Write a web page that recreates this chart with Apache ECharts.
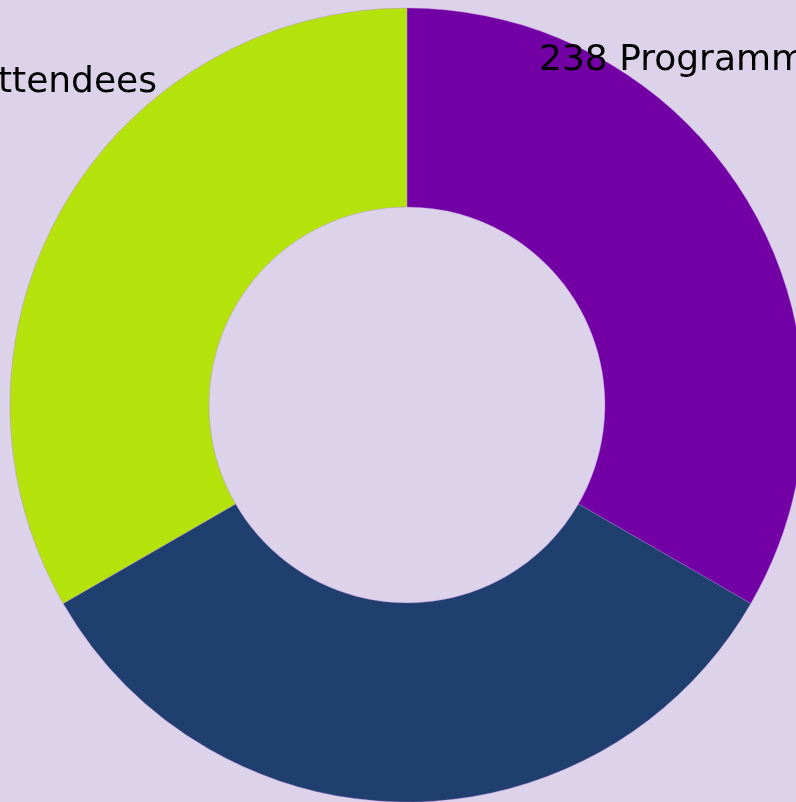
<!DOCTYPE html>
<html>
<head>
<meta charset="utf-8">
<script src="https://cdn.jsdelivr.net/npm/echarts@6/dist/echarts.min.js"></script>
<style>
html,body{margin:0;padding:0;background:#DCD3EB;}
#c{width:796px;height:802px;}
</style>
</head>
<body>
<div id="c"></div>
<script>
var categories = ['Programme Attendees', 'Other', 'Attendees'];
var values = [238, 238, 238];
var labelTexts = ['238 Programme Attendees', '', 'Attendees'];
var colors = ['#7300A4', '#1F3F6F', '#B3E30B'];

var chart = echarts.init(document.getElementById('c'), null, {renderer: 'canvas'});
var labelPos = [
  {x: 539, y: 61, align: 'left'},
  {x: 900, y: 900, align: 'left'},
  {x: 157, y: 83, align: 'right'}
];
chart.setOption({
  backgroundColor: '#DCD3EB',
  animation: false,
  series: [{
    type: 'pie',
    center: [407, 405],
    radius: [198, 397],
    startAngle: 90,
    clockwise: true,
    avoidLabelOverlap: false,
    data: categories.map(function (c, i) {
      return {name: c, value: values[i], itemStyle: {color: colors[i]}};
    }),
    itemStyle: {borderColor: 'rgba(180,120,220,0.6)', borderWidth: 0.6},
    label: {
      show: true,
      position: 'outside',
      alignTo: 'none',
      overflow: 'none',
      color: '#000',
      fontFamily: 'DejaVu Sans',
      fontSize: 36,
      formatter: function (p) { return labelTexts[p.dataIndex]; }
    },
    labelLine: {show: false},
    labelLayout: function (p) {
      var lp = labelPos[p.dataIndex];
      return {x: lp.x, y: lp.y, align: lp.align, verticalAlign: 'middle', hideOverlap: false, moveOverlap: false};
    },
    emphasis: {disabled: true}
  }]
});
</script>
</body>
</html>
